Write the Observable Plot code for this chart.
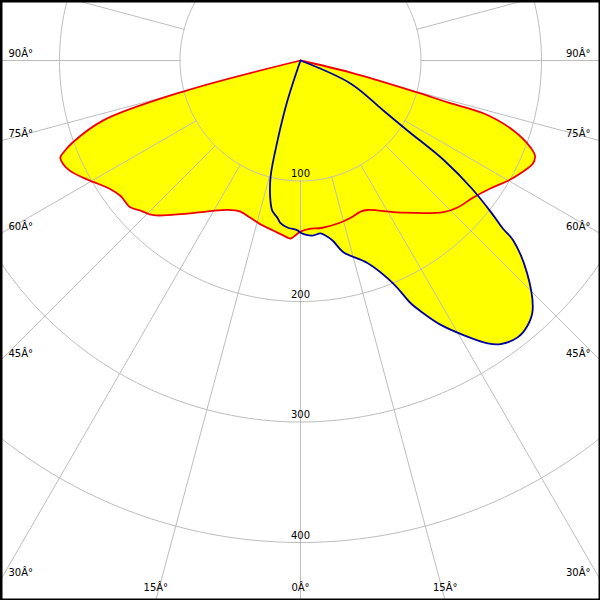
<!DOCTYPE html>
<html><head><meta charset="utf-8">
<script src="https://cdn.jsdelivr.net/npm/d3@7"></script>
<script src="https://cdn.jsdelivr.net/npm/@observablehq/plot@0.6"></script>
<style>
body{margin:0;background:#fff}
#chart{width:600px;height:600px;overflow:hidden}
</style>
</head><body><div id="chart"></div>
<script>
// C0-C180 plane (red): gamma angle (deg, 0 = down, + = right) and intensity (cd/klm)
const redAngles = [-90, -75.2, -73.1, -70.2, -68.8, -68.0, -66.6, -64.4, -61.7, -59.5, -56.7, -53.1, -49.2, -46.8, -43.5, -36.5, -26.0, -21.7, -17.7, -13.7, -9.0, -5.5, -3.2, -1.6, 0, 2.7, 7.5, 13.9, 17.7, 21.7, 24.2, 33.3, 43.3, 46.9, 51.6, 56.0, 59.9, 62.8, 66.1, 67.9, 69.3, 71.8, 73.9, 74.1, 74.7, 76.5, 90];
const redValues = [0, 100, 171, 201, 211, 215, 215, 212, 205, 199, 192, 187, 186.5, 182, 177, 158, 138, 135, 137, 140, 143, 146, 148, 145, 142, 140, 140, 138.5, 137, 135, 136, 151, 173, 178.5, 183, 190, 199, 205, 211, 210, 204, 186, 158, 127, 101, 43, 0];
// C90-C270 plane (blue)
const blueAngles = [-90, -18.0, -16.0, -14.4, -12.1, -10.6, -8.3, -7.0, -4.5, -1.0, 0, 1.6, 3.9, 6.6, 8.1, 10.1, 12.6, 18.3, 22.6, 24.4, 25.9, 27.9, 30.7, 33.5, 35.2, 38.1, 40.6, 42.9, 46.8, 49.8, 50.3, 51.4, 53.2, 55.2, 56.8, 58.9, 65.3, 90];
const blueValues = [0, 35, 69, 100, 119, 127, 132, 136, 139, 141, 143, 144.5, 145.6, 144.5, 146.7, 151.7, 163, 177, 200.5, 221, 233, 248, 265, 281.5, 288, 292, 289.6, 283, 258, 231, 218, 203, 178, 145, 106, 80, 46, 0];

const ringValues = [100, 200, 300, 400];
const ringLabels = ["100", "200", "300", "400"];
const sideAngles = [90, 75, 60, 45, 30];
const sideLabels = ["90Â°", "75Â°", "60Â°", "45Â°", "30Â°"];
const bottomAngles = [-15, 0, 15];
const bottomLabels = ["15Â°", "0Â°", "15Â°"];
const spokeAngles = d3.range(0, 360, 15);

const W = 600, H = 600, CX = 300, CY = 60, PX = 1.205;
const rad = d => d * Math.PI / 180;
const toXY = (a, v, k) => ({x: v * Math.sin(rad(a)), y: v * Math.cos(rad(a)), k});
const redPts = redAngles.map((a, i) => toXY(a, redValues[i], "red"));
const bluePts = blueAngles.map((a, i) => toXY(a, blueValues[i], "blue"));
const circlePts = ringValues.flatMap(r => d3.range(0, 361, 1).map(a => toXY(a, r, r)));
const spokePts = spokeAngles.flatMap(a => [toXY(a, 100, a), toXY(a, 800, a)]);

const grid = "#bdbdbd";
const font = {fontFamily: "DejaVu Sans", fontSize: 10, fill: "#000"};

const chart = Plot.plot({
  width: W, height: H,
  marginTop: 0, marginRight: 0, marginBottom: 0, marginLeft: 0,
  style: {background: "#fff"},
  x: {domain: [-CX / PX, (W - CX) / PX], range: [0, W], axis: null},
  y: {domain: [-CY / PX, (H - CY) / PX], range: [0, H], axis: null},
  marks: [
    Plot.line(redPts, {x: "x", y: "y", fill: "#ffff00", stroke: "none", curve: "catmull-rom"}),
    Plot.line(bluePts, {x: "x", y: "y", fill: "#ffff00", stroke: "none", curve: "catmull-rom"}),
    Plot.line(circlePts, {x: "x", y: "y", z: "k", stroke: grid, strokeWidth: 1, clip: "frame"}),
    Plot.line(spokePts, {x: "x", y: "y", z: "k", stroke: grid, strokeWidth: 1, clip: "frame"}),
    Plot.text(ringValues, {x: d => 0, y: d => d, text: (d, i) => ringLabels[i], dy: -7, ...font}),
    Plot.line(redPts, {x: "x", y: "y", stroke: "#ee0000", strokeWidth: 1.8, curve: "catmull-rom"}),
    Plot.line(bluePts, {x: "x", y: "y", stroke: "#0000a0", strokeWidth: 1.8, curve: "catmull-rom"}),
    Plot.text(sideAngles, {frameAnchor: "left", y: a => (CX / PX) / Math.tan(rad(a)), text: (d, i) => sideLabels[i], textAnchor: "start", dx: 8, dy: -7, ...font}),
    Plot.text(sideAngles, {frameAnchor: "right", y: a => ((W - CX) / PX) / Math.tan(rad(a)), text: (d, i) => sideLabels[i], textAnchor: "end", dx: -10, dy: -7, ...font}),
    Plot.text(bottomAngles, {frameAnchor: "bottom", x: a => ((H - CY) / PX) * Math.tan(rad(a)), text: (d, i) => bottomLabels[i], dy: -10, ...font}),
    Plot.frame({stroke: "#000", strokeWidth: 4})
  ]
});
document.getElementById("chart").appendChild(chart);
</script>
</body></html>
